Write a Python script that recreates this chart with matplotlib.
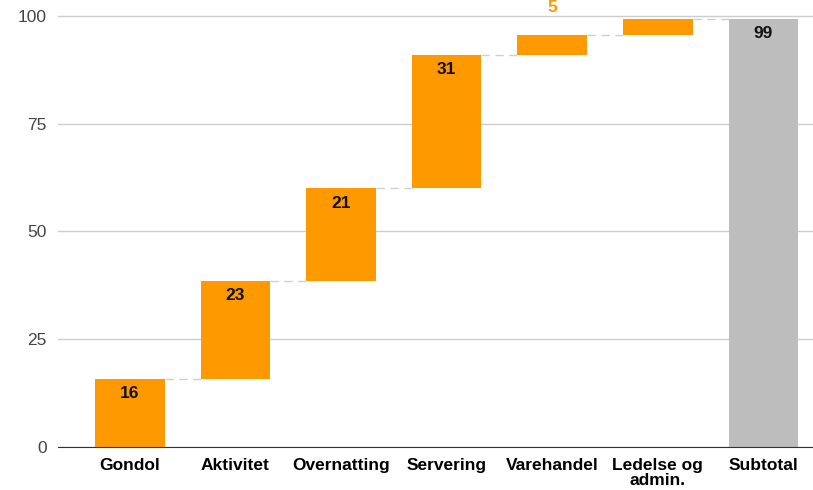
import numpy as np
import matplotlib
matplotlib.use("Agg")
import matplotlib.pyplot as plt

plt.rcParams['font.family'] = ['Liberation Sans', 'DejaVu Sans']

categories = ["Gondol", "Aktivitet", "Overnatting", "Servering", "Varehandel", "Ledelse og\nadmin.", "Subtotal"]
increments = [15.8, 22.8, 21.4, 31.0, 4.6, 3.8]
yticks = [0, 25, 50, 75, 100]

orange = "#FF9900"
grey = "#BDBDBD"

ends = np.cumsum(increments)
starts = ends - np.array(increments)
total = ends[-1]

fig = plt.figure(figsize=(8.13, 4.9), dpi=100)
ax = fig.add_axes([58 / 813, 43 / 490, 755 / 813, 447 / 490])

x = np.arange(len(categories))
width = 0.66

ax.bar(x[:-1], increments, bottom=starts, width=width, color=orange, zorder=3)
ax.bar(x[-1], total, width=width, color=grey, zorder=3)

# dashed connectors between bars
for i in range(len(increments)):
    ax.plot([x[i] + width / 2, x[i + 1] - width / 2], [ends[i], ends[i]],
            color="#D0D0D0", lw=1, ls=(0, (6, 4)), zorder=2)

# value labels: inside the bar if it is tall enough, else above it in orange
for i, v in enumerate(increments):
    if v > 8:
        ax.text(x[i], ends[i] - 3.5, "%d" % round(v), ha="center", va="center",
                fontsize=12.5, fontweight="bold", color="#111111", zorder=4)
    else:
        ax.text(x[i], ends[i] + 6.3, "%d" % round(v), ha="center", va="center",
                fontsize=12.5, fontweight="bold", color=orange, zorder=4, clip_on=False)
ax.text(x[-1], total - 3.5, "%d" % round(total), ha="center", va="center",
        fontsize=12.5, fontweight="bold", color="#111111", zorder=4)

ax.set_xlim(-0.68, 6.47)
ax.set_ylim(0, 103.7)
ax.set_yticks(yticks)
ax.yaxis.grid(True, color="#CCCCCC", lw=1, zorder=0)
ax.tick_params(axis="y", length=0, labelsize=12.5, labelcolor="#444444", pad=8)
ax.set_xticks(x)
ax.set_xticklabels(categories, fontsize=12.5, fontweight="bold", linespacing=0.95)
ax.tick_params(axis="x", length=0, pad=8)
for s in ["top", "right", "left"]:
    ax.spines[s].set_visible(False)
ax.spines["bottom"].set_color("#333333")
ax.spines["bottom"].set_zorder(5)

fig.savefig("out.png", dpi=100)
